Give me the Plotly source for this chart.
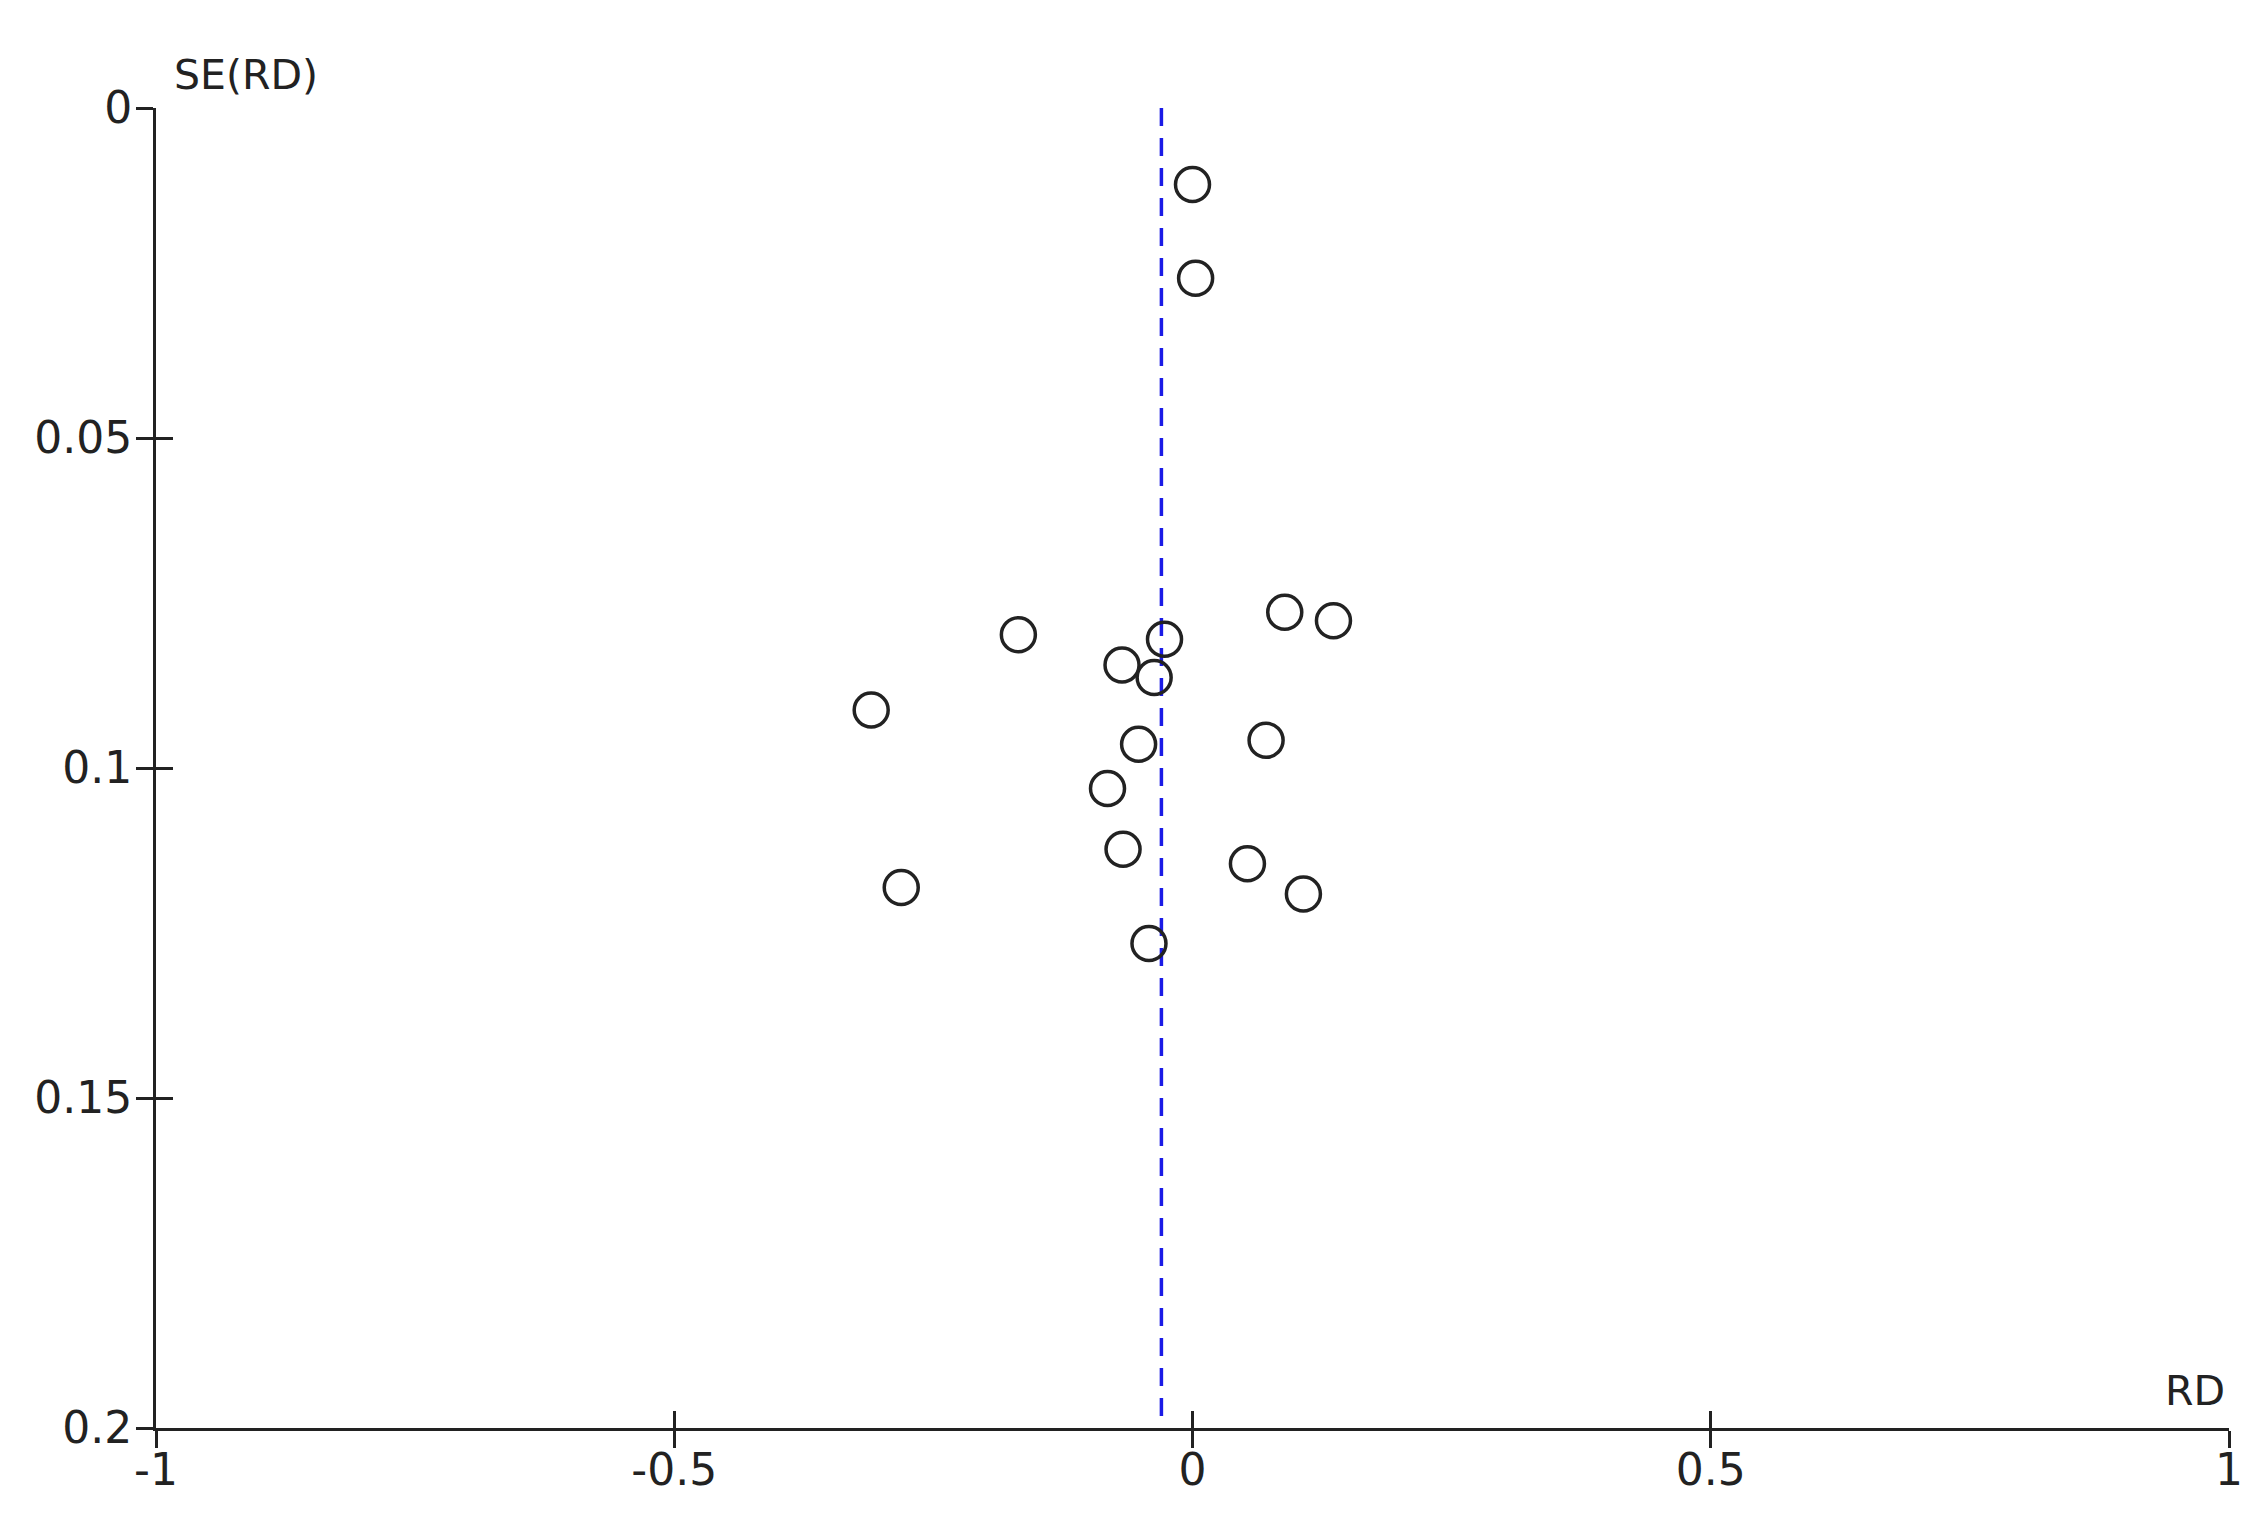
import plotly.graph_objects as go

# study risk differences and their standard errors
rd = [0.0, 0.003, 0.089, 0.136, -0.168, -0.027, -0.068, -0.037, -0.310,
      0.071, -0.052, -0.082, -0.067, 0.053, -0.281, 0.107, -0.042]
se_rd = [0.0116, 0.0258, 0.0764, 0.0777, 0.0798, 0.0805, 0.0844, 0.0863, 0.0912,
         0.0958, 0.0964, 0.1031, 0.1123, 0.1145, 0.1181, 0.1191, 0.1266]

# pooled estimate drawn as the dashed vertical line
pooled_rd = [-0.03, -0.03]
pooled_se = [0, 0.2]

x_ticks = [-1, -0.5, 0, 0.5, 1]
x_labels = ['-1', '-0.5', '0', '0.5', '1']
y_ticks = [0, 0.05, 0.1, 0.15, 0.2]
y_labels = ['0', '0.05', '0.1', '0.15', '0.2']

ink = '#222222'
font = dict(family='DejaVu Sans', size=41, color=ink)
tick_font = dict(family='DejaVu Sans', size=44, color=ink)


def funnel_plot():
    fig = go.Figure()

    fig.add_trace(go.Scatter(
        x=pooled_rd, y=pooled_se, mode='lines',
        line=dict(color='#1a1ae6', width=3.5, dash='18px,12px'),
        showlegend=False, hoverinfo='skip'
    ))
    fig.add_trace(go.Scatter(
        x=rd, y=se_rd, mode='markers',
        marker=dict(symbol='circle-open', size=34, color=ink, line=dict(width=3.5, color=ink)),
        showlegend=False
    ))

    axis_common = dict(showgrid=False, zeroline=False, tickwidth=3, tickcolor=ink, ticklen=17)

    fig.update_layout(
        width=2249, height=1512,
        margin=dict(l=148, r=28, t=100, b=92),
        plot_bgcolor='white', paper_bgcolor='white',
        font=font,
        xaxis=dict(range=[-1, 1], tickvals=x_ticks, ticktext=x_labels, ticks='outside',
                   tickfont=tick_font, ticklabelstandoff=-16,
                   showline=True, linecolor=ink, linewidth=3, **axis_common),
        yaxis=dict(range=[0.2, 0], tickvals=y_ticks, ticktext=y_labels, ticks='outside',
                   tickfont=tick_font, ticklabelstandoff=-5,
                   showline=True, linecolor=ink, linewidth=3, **axis_common),
        # second pair of axes only draws the inner half of each crossing tick
        xaxis2=dict(range=[-1, 1], tickvals=x_ticks, ticks='inside', showticklabels=False,
                    overlaying='x', side='bottom', anchor='y', **axis_common),
        yaxis2=dict(range=[0.2, 0], tickvals=y_ticks, ticks='inside', showticklabels=False,
                    overlaying='y', side='left', anchor='x', **axis_common),
    )
    fig.add_trace(go.Scatter(x=[None], y=[None], xaxis='x2', yaxis='y2',
                             showlegend=False, hoverinfo='skip'))

    fig.add_annotation(text='SE(RD)', xref='paper', yref='paper', x=0, y=1,
                       xanchor='left', yanchor='middle', xshift=16, yshift=33,
                       showarrow=False, font=font)
    fig.add_annotation(text='RD', xref='paper', yref='paper', x=1, y=0,
                       xanchor='right', yanchor='middle', xshift=-2, yshift=37,
                       showarrow=False, font=font)
    return fig


if __name__ == '__main__':
    fig = funnel_plot()
    fig.write_html('out.html')
